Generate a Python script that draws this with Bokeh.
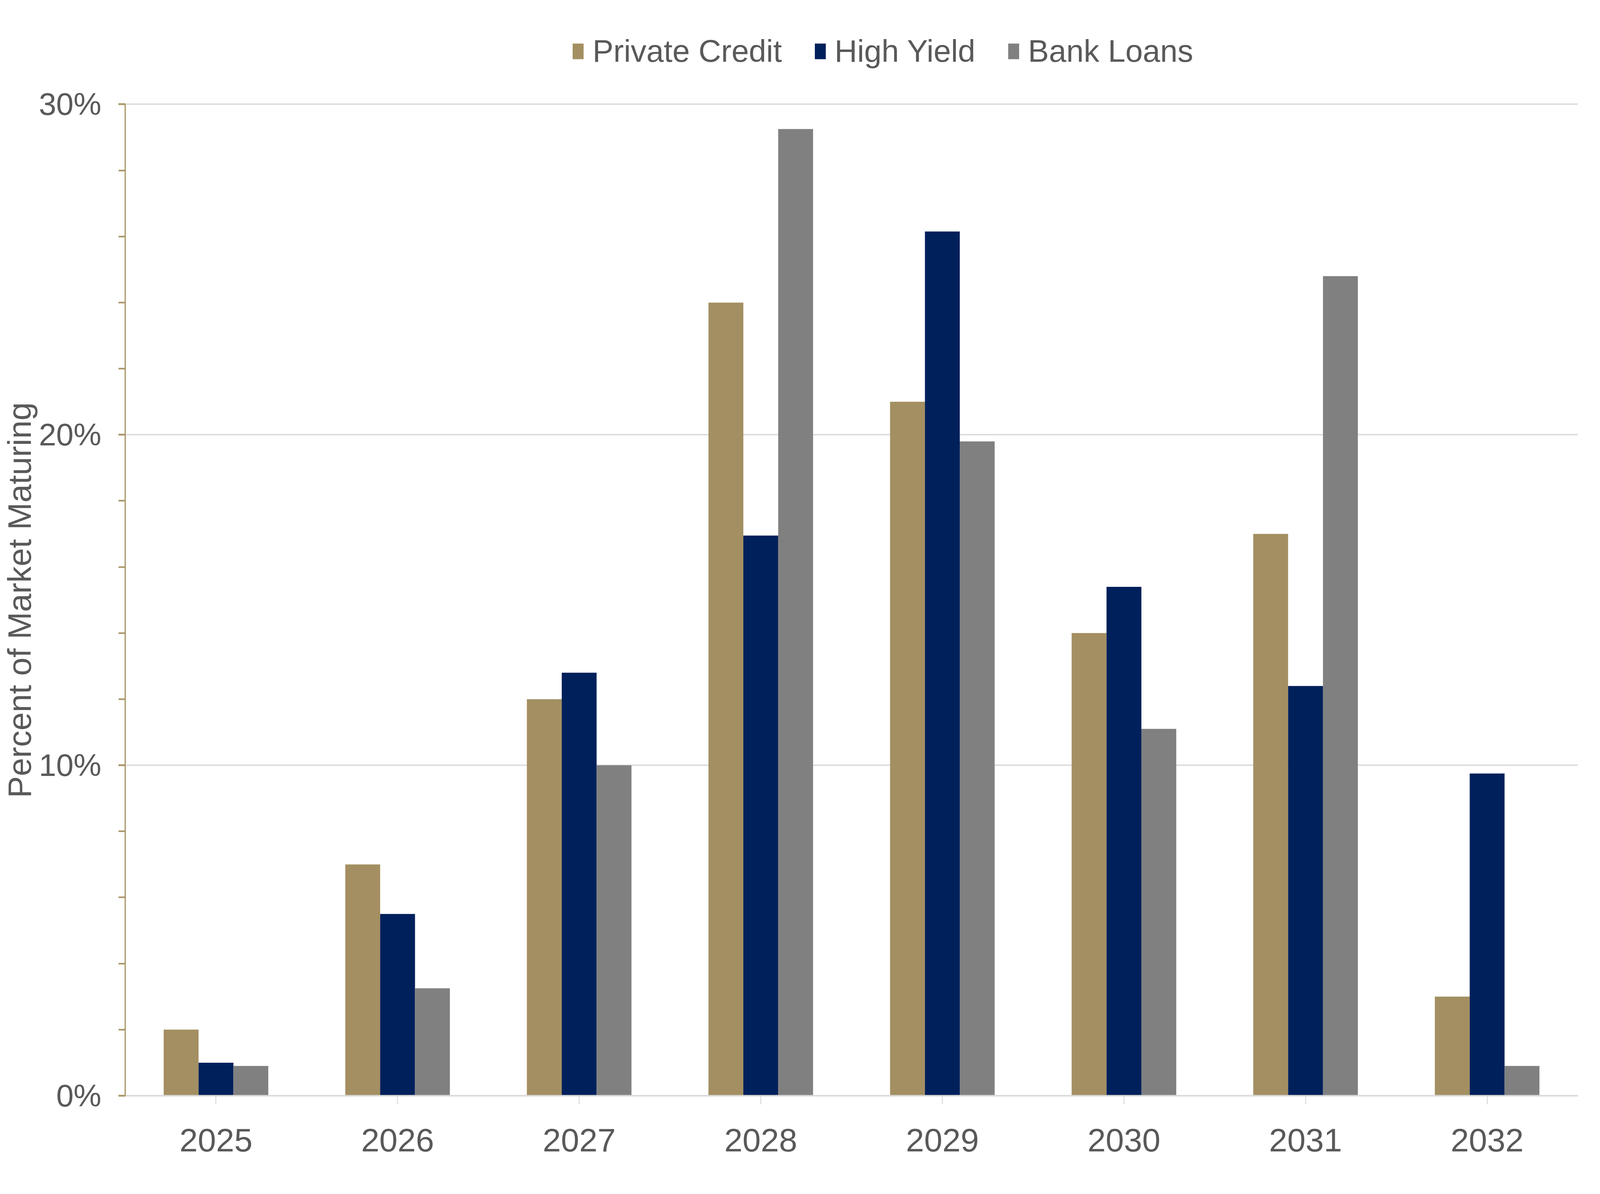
from bokeh.plotting import figure
from bokeh.models import (FactorRange, Range1d, FixedTicker, Legend, LegendItem,
                          ColumnDataSource, Title)
from bokeh.transform import dodge
from bokeh.embed import file_html
from bokeh.resources import INLINE

# ---- data ----
years = ["2025", "2026", "2027", "2028", "2029", "2030", "2031", "2032"]
private_credit = [2.0, 7.0, 12.0, 24.0, 21.0, 14.0, 17.0, 3.0]
high_yield = [1.0, 5.5, 12.8, 16.95, 26.15, 15.4, 12.4, 9.75]
bank_loans = [0.9, 3.25, 10.0, 29.25, 19.8, 11.1, 24.8, 0.9]
series_names = ["Private Credit", "High Yield", "Bank Loans"]
series_colors = ["#A38F61", "#00205B", "#808080"]
y_ticks = [0, 10, 20, 30]
y_tick_labels = ["0%", "10%", "20%", "30%"]
y_minor_ticks = [0, 2, 4, 6, 8, 10, 12, 14, 16, 18, 20, 22, 24, 26, 28, 30]
y_max = 30
y_title = "Percent of Market Maturing"

# ---- layout (reference px -> page px) ----
PAGE_W, PAGE_H = 4090, 3006
SX = PAGE_W / 5646
SY = PAGE_H / 3056


def X(v):  # reference x -> figure x
    return v * SX - 8


def Y(v):  # reference y -> figure y
    return v * SY - 8


FONT = "Liberation Sans"
TEXT = "#595959"
GOLD_AXIS = "#A89464"
GRID = "#D9D9D9"
FS = 84      # x tick labels, title
FS_Y = 80    # y tick labels
FS_LEG = 80  # legend

W = PAGE_W - 16
H = PAGE_H - 16
left = int(round(X(452)))
right = int(round(X(5586)))
bottom = int(round(Y(2859)))
top_line = Y(279)            # where the 30% line sits
y_end = y_max + top_line * y_max / (bottom - top_line)

src = ColumnDataSource(dict(year=years, pc=private_credit, hy=high_yield, bl=bank_loans))

p = figure(width=W, height=H, x_range=FactorRange(*years), y_range=Range1d(0, y_end),
           output_backend="svg", toolbar_location=None,
           min_border_left=left, min_border_right=W - right,
           min_border_top=0, min_border_bottom=H - bottom)
p.outline_line_color = None
p.background_fill_color = "white"
p.border_fill_color = "white"

bw = 0.192
fields = ["pc", "hy", "bl"]
offsets = [-bw, 0.0, bw]
renderers = []
for f, off, c in zip(fields, offsets, series_colors):
    r = p.vbar(x=dodge("year", off, range=p.x_range), top=f, bottom=0, width=bw,
               source=src, fill_color=c, line_color=None)
    renderers.append(r)

# grid
p.xgrid.grid_line_color = None
p.ygrid.ticker = FixedTicker(ticks=[10, 20, 30])
p.ygrid.grid_line_color = GRID
p.ygrid.grid_line_width = 3.4

# y axis
ya = p.yaxis[0]
ya.bounds = (0, y_max)
ya.ticker = FixedTicker(ticks=y_ticks, minor_ticks=y_minor_ticks)
ya.major_label_overrides = {t: l for t, l in zip(y_ticks, y_tick_labels)}
ya.axis_line_color = GOLD_AXIS
ya.axis_line_width = 3
ya.major_tick_line_color = GOLD_AXIS
ya.minor_tick_line_color = GOLD_AXIS
ya.major_tick_line_width = 3.8
ya.minor_tick_line_width = 3.8
ya.major_tick_out = 17
ya.major_tick_in = 0
ya.minor_tick_out = 17
ya.minor_tick_in = 0
ya.major_label_text_font = FONT
ya.major_label_text_font_size = f"{FS_Y}px"
ya.major_label_text_color = TEXT
ya.major_label_standoff = 44

# y axis title, centred on the 0-30% span of the axis
title_len = 12.06 * FS
title_center = (top_line + bottom) / 2
ytitle = Title(text=y_title, align="left", offset=int(round(bottom - title_center - title_len / 2)),
               standoff=0, text_font=FONT, text_font_size=f"{FS}px",
               text_font_style="normal", text_color=TEXT)
p.add_layout(ytitle, "left")

# x axis
xa = p.xaxis[0]
xa.axis_line_color = GRID
xa.axis_line_width = 3.8
xa.major_tick_line_color = GRID
xa.major_tick_line_width = 2.4
xa.major_tick_out = 22
xa.major_tick_in = 0
xa.minor_tick_line_color = None
xa.major_label_text_font = FONT
xa.major_label_text_font_size = f"{FS}px"
xa.major_label_text_color = TEXT
xa.major_label_standoff = 62

# legend (inside the frame, in its empty top strip)
items = [LegendItem(label=n, renderers=[r]) for n, r in zip(series_names, renderers)]
legend = Legend(items=items, orientation="horizontal",
                location=(1142, 2627),
                glyph_width=35, glyph_height=50,
                label_standoff=20, spacing=80,
                padding=0, margin=0, border_line_color=None, background_fill_alpha=0,
                label_text_font=FONT, label_text_font_size=f"{FS_LEG}px",
                label_text_color=TEXT)
p.add_layout(legend)

open("out.html", "w").write(file_html(p, INLINE))
